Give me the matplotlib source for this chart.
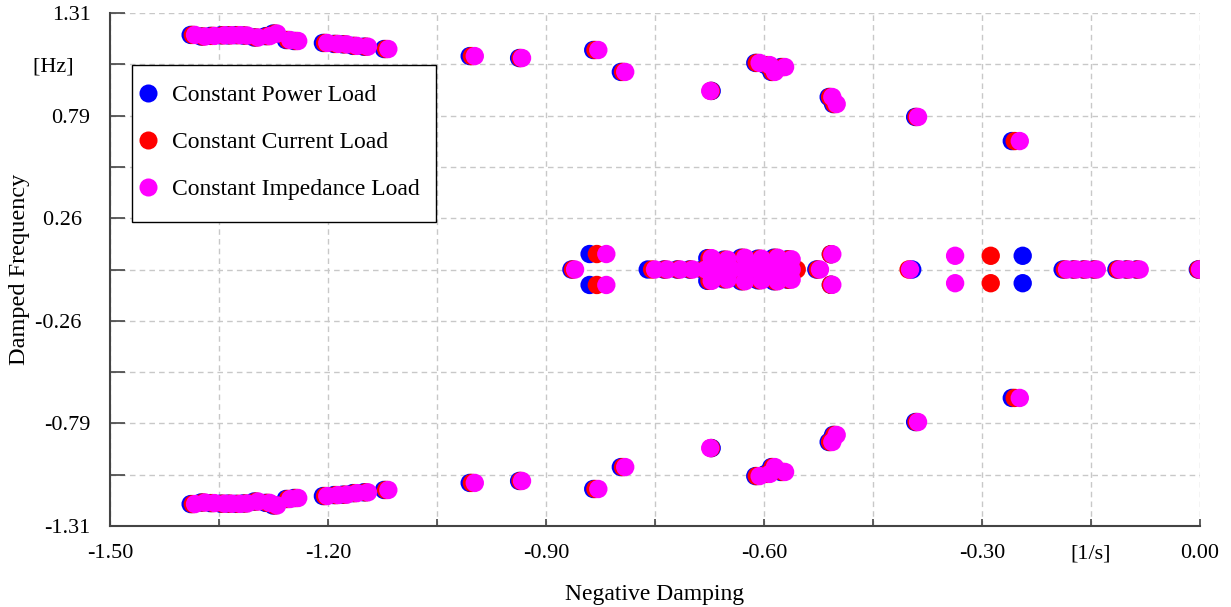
import numpy as np
import matplotlib
matplotlib.use("Agg")
import matplotlib.pyplot as plt
from matplotlib.lines import Line2D
from matplotlib.patches import Rectangle

plt.rcParams['font.family'] = ['Liberation Serif', 'DejaVu Serif']

# Upper-half frequencies of complex modes [Hz]; each mode has its conjugate at -freq
freq_complex = [1.198, 1.190, 1.193, 1.196, 1.196, 1.197, 1.195, 1.185, 1.192, 1.205,
                1.172, 1.167, 1.157, 1.152, 1.150, 1.142, 1.138, 1.126, 1.090, 1.080,
                1.121, 1.009, 0.912, 1.055, 1.044, 1.009, 1.034, 0.881, 0.845, 0.779,
                0.656, 0.079, 0.078, 0.070, 0.058, 0.050, 0.060, 0.055, 0.060, 0.052]

# Negative damping [1/s] of the complex modes, per load model
damp_c_power = [-1.389, -1.375, -1.362, -1.348, -1.338, -1.327, -1.317, -1.302, -1.286, -1.276,
                -1.258, -1.247, -1.207, -1.192, -1.180, -1.166, -1.151, -1.123, -1.005, -0.937,
                -0.835, -0.797, -0.672, -0.612, -0.598, -0.590, -0.577, -0.511, -0.505, -0.392,
                -0.259, -0.840, -0.508, -0.244, -0.678, -0.656, -0.632, -0.609, -0.587, -0.568]
damp_c_current = [-1.386, -1.372, -1.359, -1.345, -1.335, -1.324, -1.314, -1.299, -1.283, -1.273,
                  -1.255, -1.244, -1.204, -1.189, -1.177, -1.163, -1.148, -1.120, -1.002, -0.935,
                  -0.832, -0.794, -0.673, -0.610, -0.595, -0.588, -0.574, -0.509, -0.503, -0.390,
                  -0.255, -0.830, -0.508, -0.288, -0.675, -0.653, -0.629, -0.606, -0.584, -0.566]
damp_c_impedance = [-1.383, -1.369, -1.356, -1.342, -1.332, -1.321, -1.311, -1.296, -1.280, -1.270,
                    -1.252, -1.241, -1.201, -1.186, -1.174, -1.160, -1.145, -1.117, -0.998, -0.933,
                    -0.828, -0.791, -0.674, -0.606, -0.592, -0.585, -0.571, -0.506, -0.500, -0.388,
                    -0.248, -0.817, -0.506, -0.337, -0.672, -0.650, -0.626, -0.603, -0.581, -0.562]

# Negative damping [1/s] of the real modes (frequency 0), per load model
damp_r_power = [-0.865, -0.760, -0.738, -0.720, -0.703, -0.685, -0.667, -0.650, -0.633, -0.615,
                -0.598, -0.580, -0.567, -0.528, -0.396, -0.189, -0.175, -0.161, -0.147, -0.115,
                -0.102, -0.088, -0.003]
damp_r_current = [-0.863, -0.754, -0.736, -0.718, -0.701, -0.683, -0.665, -0.648, -0.631, -0.613,
                  -0.596, -0.578, -0.555, -0.526, -0.401, -0.186, -0.173, -0.159, -0.145, -0.113,
                  -0.100, -0.086, -0.002]
damp_r_impedance = [-0.860, -0.750, -0.733, -0.715, -0.698, -0.680, -0.662, -0.645, -0.628, -0.610,
                    -0.593, -0.575, -0.562, -0.523, -0.399, -0.183, -0.170, -0.156, -0.142, -0.110,
                    -0.097, -0.083, 0.000]

series_names = ["Constant Power Load", "Constant Current Load", "Constant Impedance Load"]
series_colors = ["#0000ff", "#ff0000", "#ff00ff"]

x_ticks = [-1.50, -1.35, -1.20, -1.05, -0.90, -0.75, -0.60, -0.45, -0.30, -0.15, 0.00]
x_ticklabels = ["-1.50", "", "-1.20", "", "-0.90", "", "-0.60", "", "-0.30", "[1/s]", "0.00"]
y_ticks = [1.31, 1.048, 0.786, 0.524, 0.262, 0.0, -0.262, -0.524, -0.786, -1.048, -1.31]
y_ticklabels = ["1.31", "[Hz]   ", "0.79", "", "0.26\u2009\u2009", "",
                "-0.26\u2009\u2009", "", "-0.79", "", "-1.31"]

W, H = 1231, 607
fig = plt.figure(figsize=(W / 100, H / 100), dpi=100)
ax = fig.add_axes([110 / W, 1 - 526 / H, 1090 / W, 513 / H])

fc = np.array(freq_complex)
damp_sets = [(damp_c_power, damp_r_power),
             (damp_c_current, damp_r_current),
             (damp_c_impedance, damp_r_impedance)]
for (dc, dr), color, name in zip(damp_sets, series_colors, series_names):
    dc = np.array(dc)
    dr = np.array(dr)
    xs = np.concatenate([dc, dc, dr])
    ys = np.concatenate([fc, -fc, np.zeros_like(dr)])
    ax.scatter(xs, ys, s=175, color=color, edgecolors='none', zorder=3, label=name)

ax.set_xlim(-1.5, 0.0)
ax.set_ylim(-1.31, 1.31)
ax.set_xticks(x_ticks)
ax.set_xticklabels(x_ticklabels)
ax.set_yticks(y_ticks)
ax.set_yticklabels(y_ticklabels)
ax.tick_params(axis='y', direction='in', length=11, width=1.2, color='#444444',
               labelsize=16, pad=14)
ax.tick_params(axis='x', direction='in', length=5, width=1.2, color='#444444',
               labelsize=16, pad=13)
ax.grid(True, color='#c8c8c8', linestyle=(0, (4, 3)), linewidth=1.0)
ax.set_axisbelow(True)
for side in ['top', 'right']:
    ax.spines[side].set_visible(False)
for side in ['left', 'bottom']:
    ax.spines[side].set_color('#444444')
    ax.spines[side].set_linewidth(1.5)

ax.set_xlabel("Negative Damping", fontsize=17, labelpad=15)
ax.set_ylabel("Damped Frequency", fontsize=17.5)
ax.yaxis.set_label_coords(-0.073, 0.5)

# Legend box drawn at the reference position (pixels)
box_l, box_t, box_r, box_b = 132, 65, 436, 222
fig.add_artist(Rectangle((box_l / W, 1 - box_b / H), (box_r - box_l) / W, (box_b - box_t) / H,
                         transform=fig.transFigure, facecolor='white', edgecolor='black',
                         linewidth=1.0, zorder=5))
row_y = [93, 140, 187]
for yy, color, name in zip(row_y, series_colors, series_names):
    fig.add_artist(Line2D([148 / W], [1 - yy / H], marker='o', linestyle='none',
                          markersize=13, markerfacecolor=color, markeredgecolor='none',
                          transform=fig.transFigure, zorder=6))
    fig.text(172 / W, 1 - yy / H, name, fontsize=17, ha='left', va='center_baseline',
             zorder=6)

fig.savefig("out.png", dpi=100)
